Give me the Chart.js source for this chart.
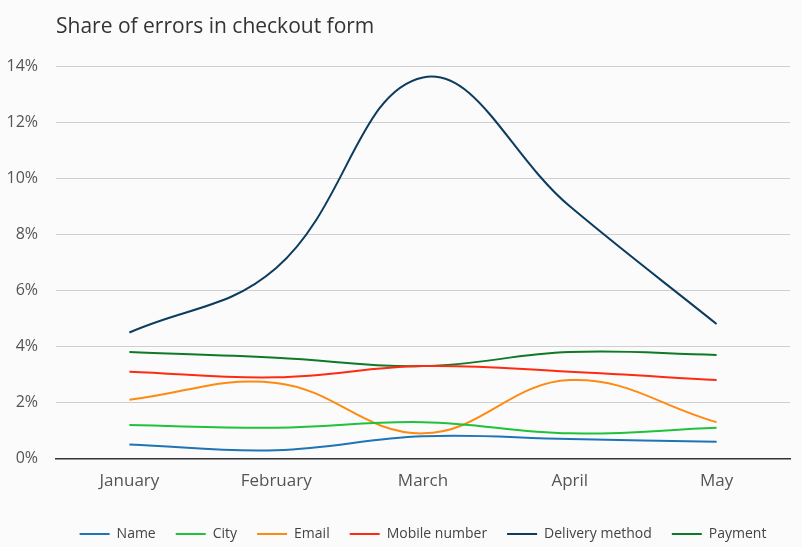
<!DOCTYPE html>
<html>
<head>
<meta charset="utf-8">
<script src="https://cdn.jsdelivr.net/npm/chart.js@4"></script>
<style>
  html, body { margin: 0; padding: 0; background: #fbfbfb; }
  #wrap { width: 802px; height: 547px; }
</style>
</head>
<body>
<div id="wrap"><canvas id="chart"></canvas></div>
<script>
const months = ['January', 'February', 'March', 'April', 'May'];

const nameErr = [0.5, 0.3, 0.8, 0.7, 0.6];
const cityErr = [1.2, 1.1, 1.3, 0.9, 1.1];
const emailErr = [2.1, 2.7, 0.9, 2.8, 1.3];
const mobileErr = [3.1, 2.9, 3.3, 3.1, 2.8];
const deliveryErr = [4.5, 6.8, 13.6, 9.0, 4.8];
const paymentErr = [3.8, 3.6, 3.3, 3.8, 3.7];

const line = (label, data, color) => ({
  label,
  data,
  borderColor: color,
  backgroundColor: color,
  borderWidth: 2,
  pointRadius: 0,
  tension: 0.4,
  fill: false
});

const config = {
  type: 'line',
  data: {
    labels: months,
    datasets: [
      line('Name', nameErr, '#1f74b4'),
      line('City', cityErr, '#1ec23b'),
      line('Email', emailErr, '#ff8a12'),
      line('Mobile number', mobileErr, '#ff2a12'),
      line('Delivery method', deliveryErr, '#0c3c5e'),
      line('Payment', paymentErr, '#0e7a26')
    ]
  },
  options: {
    animation: false,
    responsive: true,
    maintainAspectRatio: false,
    layout: { padding: { left: 6, right: 12, top: 8, bottom: -4 } },
    scales: {
      x: {
        offset: true,
        afterFit: (scale) => { scale.height += 4; },
        grid: { display: false, drawTicks: false },
        border: { display: true, color: '#333', width: 1.5 },
        ticks: { color: '#555', font: { family: 'Open Sans', size: 17 }, padding: 12 }
      },
      y: {
        min: 0,
        max: 14,
        afterFit: (scale) => { scale.width = 50; },
        grid: { color: '#cfcfcf', drawTicks: false },
        border: { display: false },
        ticks: {
          stepSize: 2,
          padding: 18,
          color: '#555',
          font: { family: 'Open Sans', size: 16 },
          callback: (v) => v + '%'
        }
      }
    },
    plugins: {
      title: {
        display: true,
        text: 'Share of errors in checkout form',
        align: 'start',
        fullSize: false,
        color: '#333',
        font: { family: 'Open Sans', size: 21, weight: 'normal' },
        padding: { top: 6, bottom: 27 }
      },
      legend: {
        position: 'bottom',
        fullSize: false,
        labels: {
          usePointStyle: true,
          pointStyle: 'line',
          pointStyleWidth: 30,
          color: '#444',
          padding: 20,
          font: { family: 'Open Sans', size: 14 }
        }
      },
      tooltip: { enabled: false }
    }
  }
};

new Chart(document.getElementById('chart'), config);
</script>
</body>
</html>
